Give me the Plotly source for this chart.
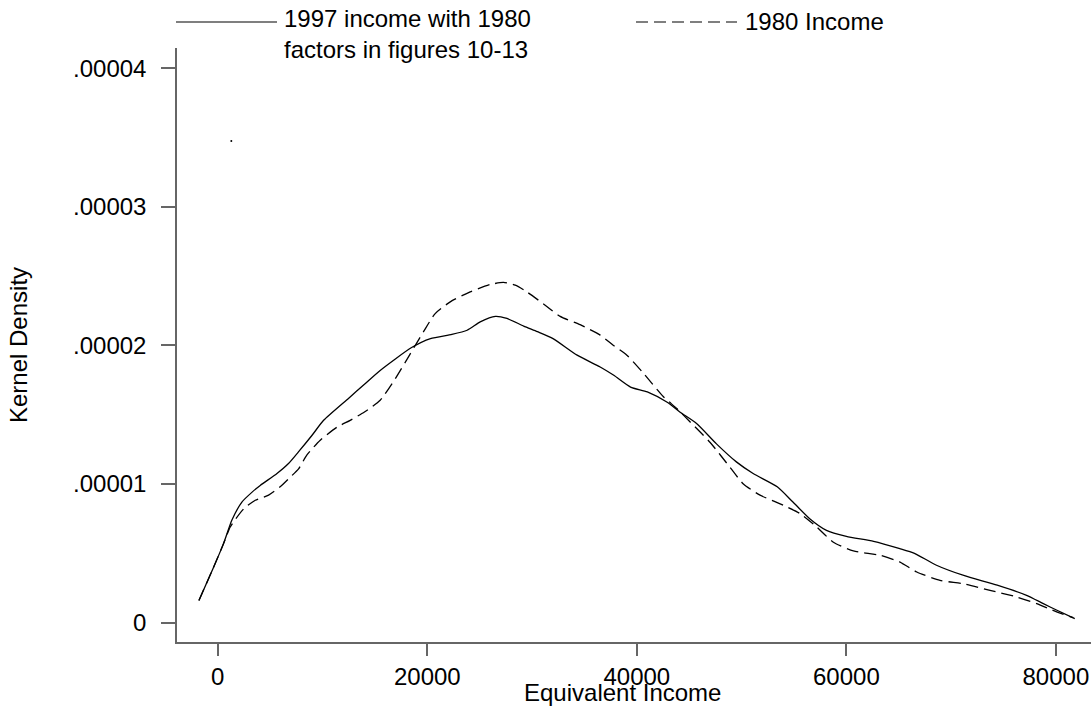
import plotly.graph_objects as go

# ---- data ----
solid_x = [-1800, -400, 550, 1350, 2300, 3250, 4050, 5650, 6750, 7700, 9000, 10100,
           12500, 14000, 15500, 18500, 20300, 22350, 23800, 25050, 26500, 27600,
           29200, 30500, 32000, 34300, 36500, 37800, 39400, 41000, 42900, 44100,
           45700, 47600, 49500, 51100, 53400, 54900, 56500, 58100, 60000, 62600,
           65100, 66500, 68600, 71200, 74400, 77200, 78800, 80100, 81800]
solid_y = [0.16, 0.40, 0.57, 0.74, 0.87, 0.94, 0.99, 1.076, 1.148, 1.232, 1.352, 1.46,
           1.62, 1.72, 1.82, 1.985, 2.05, 2.08, 2.11, 2.17, 2.21, 2.195,
           2.14, 2.10, 2.05, 1.93, 1.845, 1.785, 1.70, 1.665, 1.59, 1.52,
           1.437, 1.29, 1.16, 1.076, 0.98, 0.87, 0.75, 0.666, 0.623, 0.587,
           0.534, 0.50, 0.414, 0.34, 0.27, 0.197, 0.137, 0.089, 0.029]

dash_x = [-1800, -400, 550, 1190, 2460, 3580, 4850, 5960, 6920, 7710, 8510, 9780,
          11370, 12640, 14000, 15500, 16940, 18370, 19640, 20750, 22190, 24090,
          26000, 27270, 28390, 29500, 31090, 32680, 34590, 36500, 37770, 39050,
          40630, 42540, 43820, 45090, 47000, 48900, 50170, 51760, 53990, 55580,
          57170, 58760, 60670, 63220, 65120, 66720, 68940, 71170, 73710, 76260,
          78170, 80070, 81660]
dash_y = [0.16, 0.40, 0.57, 0.69, 0.82, 0.883, 0.92, 0.98, 1.05, 1.11, 1.21, 1.316,
          1.41, 1.46, 1.52, 1.605, 1.76, 1.94, 2.10, 2.23, 2.315, 2.387,
          2.44, 2.455, 2.435, 2.387, 2.30, 2.21, 2.15, 2.075, 2.00, 1.93,
          1.80, 1.63, 1.545, 1.448, 1.30, 1.12, 1.00, 0.92, 0.847, 0.787,
          0.69, 0.58, 0.517, 0.486, 0.437, 0.365, 0.305, 0.28, 0.233, 0.185,
          0.137, 0.077, 0.036]

stray_x = [1290]
stray_y = [3.475]

SCALE = 1e-5
x_ticks = [0, 20000, 40000, 60000, 80000]
x_tick_labels = ["0", "20000", "40000", "60000", "80000"]
y_ticks = [0, 1e-5, 2e-5, 3e-5, 4e-5]
y_tick_labels = ["0", ".00001", ".00002", ".00003", ".00004"]

legend_solid = "1997 income with 1980<br>factors in figures 10-13"
legend_dash = "1980 Income"
x_title = "Equivalent Income"
y_title = "Kernel Density"

# ---- layout geometry (pixels) ----
W, H = 1091, 707
L, R, T, B = 177, 1091, 48, 642
PW, PH = R - L, B - T


def px(x):
    return (x - L) / PW


def py(y):
    return (B - y) / PH


FONT = "Liberation Sans, Arial, sans-serif"
FS = 24

fig = go.Figure()
fig.add_trace(go.Scatter(x=solid_x, y=[v * SCALE for v in solid_y], mode="lines",
                         line=dict(color="black", width=1.3, shape="spline", smoothing=0.6),
                         showlegend=False, hoverinfo="skip"))
fig.add_trace(go.Scatter(x=dash_x, y=[v * SCALE for v in dash_y], mode="lines",
                         line=dict(color="black", width=1.3, dash="12px,6px", shape="spline", smoothing=0.6),
                         showlegend=False, hoverinfo="skip"))
fig.add_trace(go.Scatter(x=stray_x, y=[v * SCALE for v in stray_y], mode="markers",
                         marker=dict(color="black", size=2), showlegend=False, hoverinfo="skip"))

fig.update_layout(
    width=W, height=H,
    margin=dict(l=L, r=W - R, t=T, b=H - B),
    paper_bgcolor="white", plot_bgcolor="white",
    font=dict(family=FONT, size=FS, color="black"),
    xaxis=dict(range=[-3893, 83350], showgrid=False, zeroline=False,
               showline=True, linecolor="#666", linewidth=1.5,
               ticks="outside", ticklen=12, tickcolor="#666", tickwidth=1.5,
               tickvals=x_ticks, ticktext=x_tick_labels),
    yaxis=dict(range=[-1.4e-6, 4.147e-5], showgrid=False, zeroline=False,
               showline=True, linecolor="#666", linewidth=1.5,
               ticks="outside", ticklen=14, tickcolor="#666", tickwidth=1.5,
               tickvals=y_ticks, ticktext=y_tick_labels, ticklabelstandoff=10),
)

# axis titles
fig.add_annotation(text=x_title, xref="paper", yref="paper",
                   x=px(622), y=py(692), showarrow=False, xanchor="center", yanchor="middle",
                   font=dict(family=FONT, size=FS))
fig.add_annotation(text=y_title, xref="paper", yref="paper",
                   x=px(18), y=py(345), showarrow=False, textangle=-90,
                   xanchor="center", yanchor="middle", font=dict(family=FONT, size=FS))

# legend (manual)
fig.add_shape(type="line", xref="paper", yref="paper", x0=px(176), x1=px(277),
              y0=py(22), y1=py(22), line=dict(color="#555", width=1.3))
fig.add_annotation(text=legend_solid, xref="paper", yref="paper",
                   x=px(282), y=py(3), showarrow=False, xanchor="left",
                   yanchor="top", align="left", font=dict(family=FONT, size=FS))
fig.add_shape(type="line", xref="paper", yref="paper", x0=px(636), x1=px(737),
              y0=py(22), y1=py(22), line=dict(color="#555", width=1.3, dash="12px,6px"))
fig.add_annotation(text=legend_dash, xref="paper", yref="paper",
                   x=px(743), y=py(21), showarrow=False, xanchor="left", yanchor="middle",
                   align="left", font=dict(family=FONT, size=FS))

fig.write_html("out.html")
